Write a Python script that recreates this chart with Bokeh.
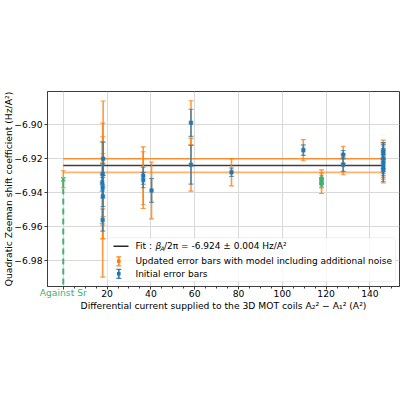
import math
from bokeh.plotting import figure
from bokeh.models import (Range1d, FixedTicker, CustomJSTickFormatter, Label,
                          BoxAnnotation)
from bokeh.embed import file_html
from bokeh.resources import INLINE

ORANGE = "#ff7f0e"
BLUE = "#1f77b4"
GREEN = "#3cb371"
FONT = "DejaVu Sans"
FS = "9.2px"
LEG_FS = "9px"

# Differential current A2^2 - A1^2 (A^2) for each run
current = [18.2, 18.0, 17.8, 18.0, 18.1, 18.0,
           36.5, 36.5, 40.3, 58.3, 58.3, 76.8, 109.6,
           127.8, 127.8,
           146.1, 146.1, 146.1, 146.1, 146.1, 146.1]
# Quadratic Zeeman shift coefficient (Hz/A^2)
coef = [-6.920, -6.929, -6.934, -6.937, -6.942, -6.956,
        -6.930, -6.9325, -6.9386, -6.8988, -6.9235, -6.9279, -6.9149,
        -6.9176, -6.9234,
        -6.9155, -6.9165, -6.920, -6.923, -6.925, -6.9265]
# initial (statistical) error bars
err_initial = [0.0098, 0.006, 0.005, 0.006, 0.006, 0.0065,
               0.005, 0.0045, 0.007, 0.008, 0.0114, 0.0025, 0.0031,
               0.0025, 0.004,
               0.005, 0.005, 0.006, 0.0055, 0.005, 0.007]
# error bars updated with the additional-noise model
err_updated = [0.034, 0.030, 0.024, 0.030, 0.025, 0.0336,
               0.017, 0.0167, 0.0167, 0.013, 0.0155, 0.008, 0.0062,
               0.005, 0.006,
               0.0065, 0.006, 0.0075, 0.008, 0.007, 0.0077]

# runs flagged in green
green_current = [117.9, 117.9]
green_coef = [-6.9318, -6.9344]
green_err = [0.002, 0.002]
green_err_updated = [0.0053, 0.006]

# comparison against the Sr reference
sr_current = [0.0]
sr_coef = [-6.932]
sr_err = [0.005]
sr_line_top = [-6.9375]
sr_line_bottom = [-7.0]

# weighted fit
fit_value = -6.924
fit_err = 0.004
fit_span = [0.0, 146.0]

x_ticks = [0, 20, 40, 60, 80, 100, 120, 140]
x_minor = [5 * i for i in range(31)]
y_ticks = [-6.98, -6.96, -6.94, -6.92, -6.90]
sr_tick_label = "Against Sr"

x_title = ("Differential current supplied to the 3D MOT coils "
           "A\u2082\u00b2 \u2212 A\u2081\u00b2 (A\u00b2)")
y_title = "Quadratic Zeeman shift coefficient (Hz/A\u00b2)"
legend_fit = "/2\u03c0 = -6.924  \u00b1  0.004  Hz/A\u00b2"
legend_updated = "Updated error bars with model including additional noise"
legend_initial = "Initial error bars"

p = figure(width=400, height=400, output_backend="svg", toolbar_location=None,
           x_range=Range1d(-7.2, 153.5), y_range=Range1d(-6.9951, -6.8804),
           min_border_left=43, min_border_right=1, min_border_top=91,
           min_border_bottom=114)
p.outline_line_color = "#3d3d3d"
p.outline_line_width = 1
p.background_fill_color = "white"
p.border_fill_color = "white"

for ax in (p.xaxis[0], p.yaxis[0]):
    ax.axis_line_color = "#3d3d3d"
    ax.major_tick_line_color = "#3d3d3d"
    ax.minor_tick_line_color = "#3d3d3d"
    ax.major_tick_in = 0
    ax.major_tick_out = 3
    ax.minor_tick_in = 0
    ax.minor_tick_out = 2
    ax.major_label_text_font = FONT
    ax.major_label_text_font_size = FS
    ax.major_label_text_color = "black"
    ax.axis_label_text_font = FONT
    ax.axis_label_text_font_size = FS
    ax.axis_label_text_font_style = "normal"
    ax.axis_label_text_color = "black"

p.xaxis.ticker = FixedTicker(ticks=x_ticks, minor_ticks=x_minor)
p.xaxis.formatter = CustomJSTickFormatter(
    code="return tick == 0 ? '' : tick.toFixed(0);")
p.xaxis.major_label_standoff = 0
p.xaxis.axis_label_standoff = 0
p.xaxis.axis_label = x_title

p.yaxis.ticker = FixedTicker(ticks=y_ticks)
p.yaxis.formatter = CustomJSTickFormatter(
    code="return tick.toFixed(2).replace('-', '\\u2212');")
p.yaxis.minor_tick_line_color = None
p.yaxis.major_label_standoff = 2

p.grid.grid_line_color = "#d9d9d9"
p.grid.grid_line_width = 1

# fit and its uncertainty band edges
p.line(fit_span, [fit_value + fit_err] * 2, line_color=ORANGE, line_width=1.4, line_alpha=0.85)
p.line(fit_span, [fit_value - fit_err] * 2, line_color=ORANGE, line_width=1.8, line_alpha=0.6)
p.line(fit_span, [fit_value] * 2, line_color="black", line_width=1.5, line_alpha=0.75)

# Sr reference: dashed marker line
p.segment(x0=sr_current, y0=sr_line_top, x1=sr_current, y1=sr_line_bottom,
          line_color=GREEN, line_width=2, line_dash="6 4")


def error_bars(xs, ys, errs, color, width, alpha, cap):
    lo = [y - e for y, e in zip(ys, errs)]
    hi = [y + e for y, e in zip(ys, errs)]
    p.segment(x0=xs, y0=lo, x1=xs, y1=hi, line_color=color,
              line_width=width, line_alpha=alpha)
    p.scatter(xs, lo, marker="dash", size=cap, line_color=color,
              line_width=1.1, line_alpha=alpha)
    p.scatter(xs, hi, marker="dash", size=cap, line_color=color,
              line_width=1.1, line_alpha=alpha)


# updated (orange) bars under the initial (blue) ones
error_bars(current, coef, err_updated, ORANGE, 1.6, 0.8, 5)
error_bars(green_current, green_coef, green_err_updated, ORANGE, 1.6, 0.8, 5)
error_bars(sr_current, sr_coef, sr_err, ORANGE, 1.6, 0.8, 5)

error_bars(current, coef, err_initial, BLUE, 1.7, 0.7, 5)
p.scatter(current, coef, marker="square", size=3.6, fill_color=BLUE,
          line_color=BLUE, line_alpha=0.35, line_width=1.5)

error_bars(green_current, green_coef, green_err, GREEN, 1.8, 0.75, 4)
p.scatter(green_current, green_coef, marker="square", size=3.6,
          fill_color=GREEN, line_color=GREEN)

sr_lo = [y - e for y, e in zip(sr_coef, sr_err)]
p.segment(x0=sr_current, y0=sr_lo, x1=sr_current, y1=sr_coef,
          line_color=GREEN, line_width=2)
p.scatter(sr_current, sr_coef, marker="x", size=6, line_color=GREEN,
          line_width=1.2)

# green tick label for the Sr comparison, kept in the bottom panel
p.add_layout(Label(x=sr_current[0], y=286.5, x_units="data", y_units="canvas",
                   text=sr_tick_label, text_align="center", text_baseline="top",
                   text_font=FONT, text_font_size=FS, text_color=GREEN), "below")

# vertical axis title in the left panel
p.add_layout(Label(x=7.5, y=188.5, x_units="canvas", y_units="canvas",
                   text=y_title, angle=math.pi / 2, text_align="center",
                   text_baseline="middle", text_font=FONT, text_font_size=FS,
                   text_color="black"), "left")


# legend, placed in canvas units
def cbox(l, r, t, b, color, alpha=1.0, line=None, radius=0):
    box = BoxAnnotation(left=l, right=r, bottom=b, top=t,
                        left_units="canvas", right_units="canvas",
                        bottom_units="canvas", top_units="canvas",
                        fill_color=color, fill_alpha=alpha,
                        line_color=line, line_width=1 if line else 0,
                        border_radius=radius, level="annotation")
    p.add_layout(box)


def ctext(x, y, s, size=LEG_FS, style="normal"):
    p.add_layout(Label(x=x, y=y, x_units="canvas", y_units="canvas", text=s,
                       text_baseline="middle", text_align="left",
                       text_font=FONT, text_font_size=size,
                       text_font_style=style, text_color="black",
                       level="annotation"))


cbox(106.7, 395, 237.3, 281, "white", 0.8, "#cccccc", 3)

# fit line sample
cbox(113, 128, 245.0, 246.4, "black", 0.85)


def bar_icon(cx, cy, half, color, alpha):
    cbox(cx - 0.9, cx + 0.9, cy - half, cy + half, color, alpha)
    cbox(cx - 2.5, cx + 2.5, cy - half - 0.6, cy - half + 0.6, color, alpha)
    cbox(cx - 2.5, cx + 2.5, cy + half - 0.6, cy + half + 0.6, color, alpha)
    cbox(cx - 1.8, cx + 1.8, cy - 1.8, cy + 1.8, color, 1.0)


bar_icon(118.3, 260.8, 4.5, ORANGE, 0.9)
bar_icon(118.3, 273.3, 4.5, BLUE, 0.9)

ctext(135, 245.7, "Fit : ")
ctext(155, 245.7, "\u03b2", style="italic")
ctext(159.8, 248.0, "A", size="6.3px", style="italic")
ctext(163.5, 245.7, legend_fit)
ctext(135, 260.7, legend_updated)
ctext(135, 273.3, legend_initial)

open("out.html", "w").write(file_html(p, INLINE))
